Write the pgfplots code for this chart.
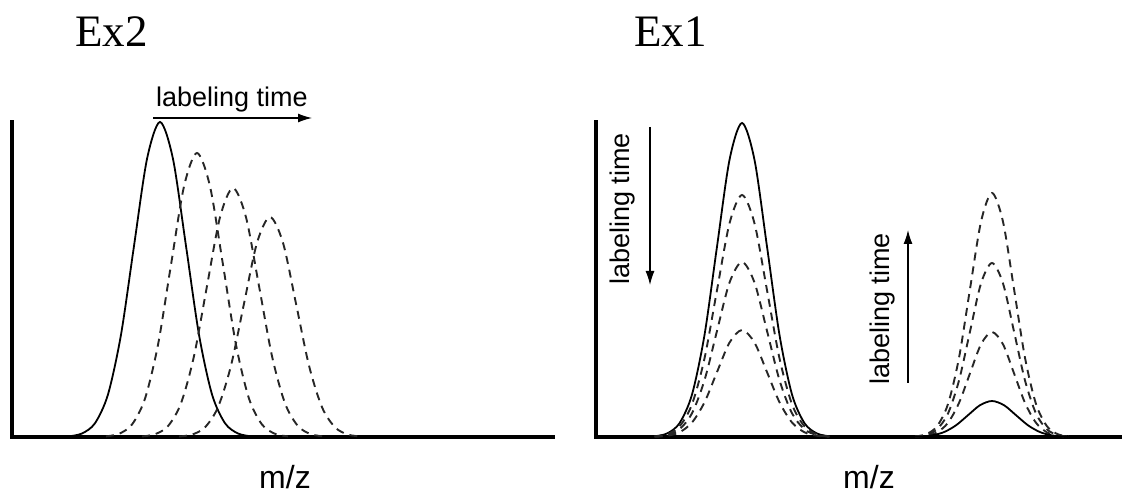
\documentclass[border=0pt]{standalone}
\usepackage{fontspec}
\setmainfont{Liberation Serif}
\newfontfamily\arial{Liberation Sans}
\usepackage{pgfplots}
\pgfplotsset{compat=1.18}
\usetikzlibrary{arrows.meta}
\begin{document}
\begin{tikzpicture}[x=1pt,y=1pt]
\path[use as bounding box] (0,0) rectangle (1124,495);
\pgfplotsset{
  panel/.style={scale only axis, anchor=south west, clip=false,
    axis x line*=bottom, axis y line*=left,
    axis line style={line width=3.4pt, line cap=rect},
    xtick=\empty, ytick=\empty, ymin=0, ymax=315, height=315pt},
  sol/.style={black, line width=1.8pt, smooth, no markers},
  das/.style={black!85, line width=1.9pt, smooth, no markers, dash pattern=on 8pt off 6pt},
}
% ---------- left panel (Ex2) ----------
\begin{axis}[panel, at={(12pt,58pt)}, width=541pt, xmin=12, xmax=553]
\addplot[sol] coordinates {(69,0.7)(82,3.5)(95,13.8)(108,42.6)(121,102.3)(134,191.0)(147,278.0)(160,315)(173,278.0)(186,191.0)(199,102.3)(212,42.6)(225,13.8)(238,3.5)(251,0.7)};
\addplot[das] coordinates {(106,0.6)(119,3.2)(132,12.5)(145,38.4)(158,92.2)(171,172.2)(184,250.6)(197,284)(210,250.6)(223,172.2)(236,92.2)(249,38.4)(262,12.5)(275,3.2)(288,0.6)};
\addplot[das] coordinates {(142,0.5)(155,2.8)(168,10.9)(181,33.7)(194,80.9)(207,151.0)(220,219.7)(233,249)(246,219.7)(259,151.0)(272,80.9)(285,33.7)(298,10.9)(311,2.8)(324,0.5)};
\addplot[das] coordinates {(179,0.5)(192,2.4)(205,9.7)(218,29.8)(231,71.4)(244,133.4)(257,194.2)(270,220)(283,194.2)(296,133.4)(309,71.4)(322,29.8)(335,9.7)(348,2.4)(361,0.5)};
\end{axis}
% ---------- right panel (Ex1) ----------
\begin{axis}[panel, at={(596pt,58pt)}, width=524pt, xmin=596, xmax=1120]
\addplot[sol] coordinates {(654.5,0.7)(667,3.5)(679.5,13.8)(692,42.5)(704.5,102.0)(717,190.4)(729.5,277.1)(742,314)(754.5,277.1)(767,190.4)(779.5,102.0)(792,42.5)(804.5,13.8)(817,3.5)(829.5,0.7)};
\addplot[das] coordinates {(654.5,0.5)(667,2.7)(679.5,10.6)(692,32.7)(704.5,78.6)(717,146.8)(729.5,213.6)(742,242)(754.5,213.6)(767,146.8)(779.5,78.6)(792,32.7)(804.5,10.6)(817,2.7)(829.5,0.5)};
\addplot[das] coordinates {(654.5,0.4)(667,1.9)(679.5,7.7)(692,23.7)(704.5,56.8)(717,106.1)(729.5,154.4)(742,175)(754.5,154.4)(767,106.1)(779.5,56.8)(792,23.7)(804.5,7.7)(817,1.9)(829.5,0.4)};
\addplot[das] coordinates {(654.5,0.2)(667,1.2)(679.5,4.7)(692,14.5)(704.5,34.7)(717,64.9)(729.5,94.4)(742,107)(754.5,94.4)(767,64.9)(779.5,34.7)(792,14.5)(804.5,4.7)(817,1.2)(829.5,0.2)};
\addplot[das] coordinates {(915,0.5)(926,2.7)(937,10.7)(948,33.0)(959,79.2)(970,148.0)(981,215.3)(992,244)(1003,215.3)(1014,148.0)(1025,79.2)(1036,33.0)(1047,10.7)(1058,2.7)(1069,0.5)};
\addplot[das] coordinates {(915,0.4)(926,1.9)(937,7.6)(948,23.5)(959,56.5)(970,105.5)(981,153.6)(992,174)(1003,153.6)(1014,105.5)(1025,56.5)(1036,23.5)(1047,7.6)(1058,1.9)(1069,0.4)};
\addplot[das] coordinates {(915,0.2)(926,1.2)(937,4.6)(948,14.2)(959,34.1)(970,63.7)(981,92.7)(992,105)(1003,92.7)(1014,63.7)(1025,34.1)(1036,14.2)(1047,4.6)(1058,1.2)(1069,0.2)};
\addplot[sol] coordinates {(908,0.1)(920,0.4)(932,1.6)(944,4.9)(956,11.7)(968,21.8)(980,31.8)(992,36)(1004,31.8)(1016,21.8)(1028,11.7)(1040,4.9)(1052,1.6)(1064,0.4)(1076,0.1)};
\end{axis}
% ---------- annotations ----------
\node[anchor=base west, inner sep=0pt, font=\fontsize{45}{50}\selectfont] at (75,448) {Ex2};
\node[anchor=base west, inner sep=0pt, font=\fontsize{45}{50}\selectfont] at (634,448) {Ex1};
\node[anchor=base, inner sep=0pt, font=\arial\fontsize{32}{36}\selectfont] at (285,6) {m/z};
\node[anchor=base, inner sep=0pt, font=\arial\fontsize{32}{36}\selectfont] at (869,6) {m/z};
\node[anchor=base west, inner sep=0pt, font=\arial\fontsize{27}{30}\selectfont] at (156,388) {labeling time};
\draw[line width=1.3pt, -{Latex[length=14pt,width=9pt]}] (153,377) -- (312,377);
\node[anchor=base west, inner sep=0pt, rotate=90, font=\arial\fontsize{27}{30}\selectfont] at (629,210) {labeling time};
\draw[line width=1.3pt, -{Latex[length=14pt,width=9pt]}] (650,368) -- (650,210);
\node[anchor=base west, inner sep=0pt, rotate=90, font=\arial\fontsize{27}{30}\selectfont] at (889,110) {labeling time};
\draw[line width=1.3pt, -{Latex[length=14pt,width=9pt]}] (908,112) -- (908,265);
\end{tikzpicture}
\end{document}
